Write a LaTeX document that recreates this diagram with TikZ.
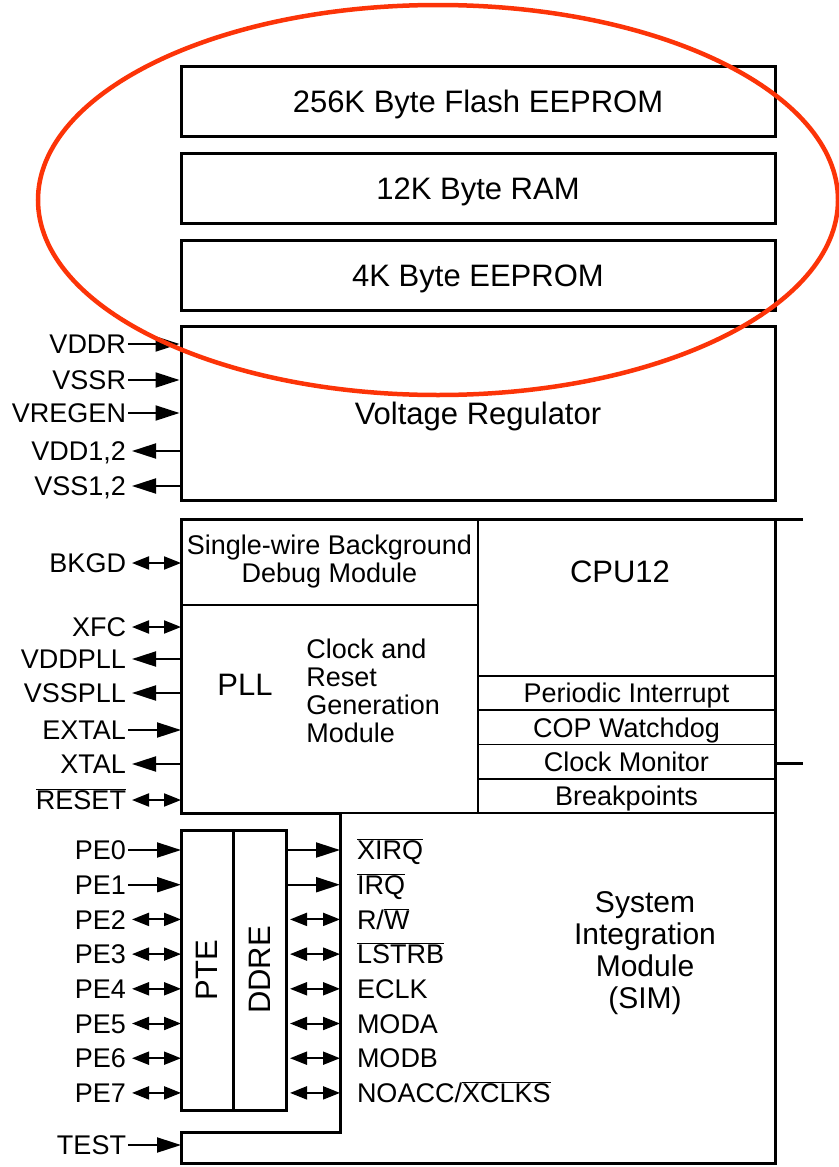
\documentclass[tikz,border=0pt]{standalone}
\usepackage{fontspec}
\usepackage{graphicx}
\setmainfont{Liberation Sans}
\usetikzlibrary{arrows.meta, positioning}

\definecolor{markred}{RGB}{252,52,8}
\newcommand{\barsig}[1]{$\overline{\hbox{#1}}$}
\newcommand{\bigsize}{\fontsize{31}{33}\selectfont}
\newcommand{\pinsize}{\fontsize{27}{28}\selectfont}

\tikzset{
  blk/.style={draw, line width=3pt, minimum width=594pt, minimum height=70pt, inner sep=0pt,
    font=\bigsize, text height=22pt, text depth=0pt},
  cell/.style={draw, line width=1.6pt, inner sep=0pt, outer sep=0pt, font=\pinsize, align=center},
  portbox/.style={draw, line width=3pt, inner sep=0pt, outer sep=0pt, minimum height=280pt, font=\bigsize},
  pinlbl/.style={font=\pinsize, inner sep=1pt, text height=19.5pt, text depth=0pt},
  pinin/.style={-{Triangle[length=24pt,width=15pt]}},
  pinout/.style={{Triangle[length=24pt,width=15pt]}-, shorten <=4pt},
  pinbi/.style={{Triangle[length=17pt,width=13pt]}-{Triangle[length=17pt,width=13pt]}, shorten <=4pt},
}

\begin{document}
\begin{tikzpicture}[x=1pt, y=-1pt, line width=2pt]
\useasboundingbox (0,0) rectangle (838,1167);

% MEMORIES
\node[blk] (flash) at (478,101) {256K Byte Flash EEPROM};
\node[blk, below=14pt of flash] (ram) {12K Byte RAM};
\node[blk, below=14pt of ram] (eeprom) {4K Byte EEPROM};

% VOLTAGE REGULATOR
\node[blk, minimum height=174pt, below=13pt of eeprom] (vreg) {Voltage Regulator};
\foreach \id/\txt/\y/\tip in {vddr/VDDR/344/pinin, vssr/VSSR/380/pinin, vregen/VREGEN/413/pinin,
    {vdd/VDD1,2/451/pinout}, {vss/VSS1,2/486/pinout}} {
  \node[pinlbl, anchor=east] (\id) at (128,\y) {\txt};
  \draw[\tip] (\id.east) -- (\id.east -| vreg.west);
}

% CPU CORE
\node[cell, minimum width=297pt, minimum height=86pt, anchor=north west] (bdm) at (181,519)
  {Single-wire Background\\Debug Module};
\node[cell, minimum width=297pt, minimum height=208pt, anchor=north west] (crg) at (181,605) {};
\node[font=\bigsize] (pll) at (245,685) {PLL};
\node[font=\pinsize, align=left, anchor=west] (crgtxt) at (302,691) {Clock and\\Reset\\Generation\\Module};
\node[cell, minimum width=297pt, minimum height=157pt, anchor=north west] (cpu) at (478,519) {};
\node[font=\bigsize] (cputxt) at (620,572) {CPU12};
\foreach \id/\txt [count=\k from 0] in {pit/Periodic Interrupt, cop/COP Watchdog, clkmon/Clock Monitor, bkpt/Breakpoints}
  \node[cell, minimum width=297pt, minimum height=34.25pt, text height=19.5pt, text depth=0pt,
    anchor=north west] (\id) at (478,676+34.25*\k) {\txt};

% clock and debug pins
\foreach \id/\txt/\y/\tip in {bkgd/BKGD/563/pinbi, xfc/XFC/627/pinbi, vddpll/VDDPLL/659/pinout,
    vsspll/VSSPLL/693/pinout, extal/EXTAL/730/pinin, xtal/XTAL/764/pinout, reset/\barsig{RESET}/800/pinbi} {
  \node[pinlbl, anchor=east] (\id) at (128,\y) {\txt};
  \draw[\tip] (\id.east) -- (\id.east -| crg.west);
}

% SIM
\draw[line width=3pt] (803,519) -- (181,519) -- (181,813) -- (340,813) -- (340,1132) -- (181,1132)
  -- (181,1163) -- (775,1163) -- (775,519);
\draw[line width=3pt] (775,763) -- (803,763);
\node[font=\fontsize{30}{32}\selectfont, align=center] (simtxt) at (645,953) {System\\Integration\\Module\\(SIM)};
\coordinate (simleft) at (340,813);
\coordinate (testbox) at (181,1147);

% PORT E
\node[portbox, minimum width=52pt, anchor=north west] (pte) at (181,830) {\rotatebox{90}{PTE}};
\node[portbox, minimum width=53pt, right=0pt of pte] (ddre) {\rotatebox{90}{DDRE}};
\foreach \i/\tip/\sig in {0/pinin/\barsig{XIRQ}, 1/pinin/\barsig{IRQ}, 2/pinbi/{R/\barsig{W}},
    3/pinbi/\barsig{LSTRB}, 4/pinbi/ECLK, 5/pinbi/MODA, 6/pinbi/MODB, 7/pinbi/{NOACC/\barsig{XCLKS}}} {
  \node[pinlbl, anchor=east] (pe\i) at (128,850+34.7*\i) {PE\i};
  \draw[\tip] (pe\i.east) -- (pe\i.east -| pte.west);
  \node[pinlbl, anchor=west] (sig\i) at (355,850+34.7*\i) {\sig};
  \draw[\tip] (sig\i.west -| ddre.east) -- (sig\i.west -| simleft);
}
\node[pinlbl, anchor=east] (test) at (128,1145) {TEST};
\draw[pinin] (test.east) -- (test.east -| testbox);

% HIGHLIGHT
\draw[markred, line width=4.5pt] (438,200) ellipse [x radius=400pt, y radius=195pt];

\end{tikzpicture}
\end{document}
